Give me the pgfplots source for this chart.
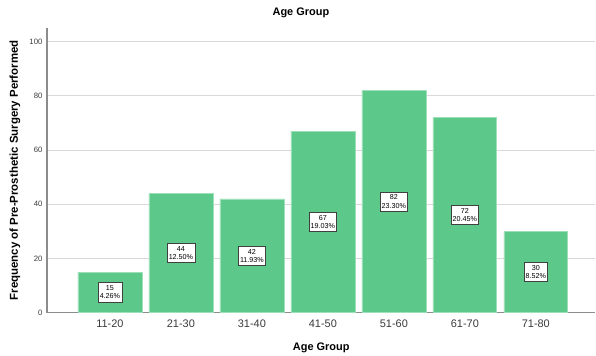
\documentclass[border=0pt]{standalone}
\usepackage{pgfplots}
\pgfplotsset{compat=1.18}
\usepackage{pgfplotstable}
\usepackage{fontspec}
\setmainfont{Liberation Sans}
\definecolor{barg}{HTML}{5CC98A}
\definecolor{gridc}{HTML}{D9D9D9}
\definecolor{axc}{HTML}{8C8C8C}
\definecolor{txt}{HTML}{3A3A3A}
\pgfplotstableread{
x y pct
0 15 4.26
1 44 12.50
2 42 11.93
3 67 19.03
4 82 23.30
5 72 20.45
6 30 8.52
}\data
\begin{document}
\begin{tikzpicture}
\begin{axis}[
  scale only axis,
  width=549bp, height=285bp,
  xmin=-0.887, xmax=6.84,
  ymin=0, ymax=105,
  xtick={0,...,6},
  xticklabels={11-20,21-30,31-40,41-50,51-60,61-70,71-80},
  ytick={0,20,40,60,80,100},
  major tick length=0pt,
  axis x line*=bottom, axis y line*=left,
  axis line style={draw=axc, line width=1.1pt, -},
  ymajorgrids, grid style={draw=gridc, line width=0.9pt},
  /pgf/number format/assume math mode=true,
  xticklabel style={font=\fontsize{11}{12}\selectfont, text=txt, yshift=-4bp},
  yticklabel style={font=\fontsize{7.8}{9}\selectfont, text=txt, xshift=-1bp},
  title={\textbf{Age Group}},
  title style={at={(axis description cs:0.463,1)}, anchor=center, yshift=9bp, font=\fontsize{11}{13}\selectfont},
  xlabel={\textbf{Age Group}},
  xlabel style={at={(axis description cs:0.5,0)}, anchor=base, yshift=-37.5bp, font=\fontsize{11}{13}\selectfont},
  ylabel={\textbf{Frequency of Pre-Prosthetic Surgery Performed}},
  ylabel style={at={(axis description cs:-0.0583,0.5)}, anchor=center, font=\fontsize{11.5}{13}\selectfont},
  clip=false,
]
\addplot[ybar, bar width=0.9, fill=barg, draw=barg!60!white, line width=0.6pt] table[x=x, y=y] {\data};
\addplot[draw=none, mark=none,
  visualization depends on={\thisrow{y} \as \cnt},
  visualization depends on={\thisrow{pct} \as \pct},
  nodes near coords={\pgfmathprintnumber[fixed,precision=0]{\cnt}\\\pgfmathprintnumber[fixed,fixed zerofill,precision=2]{\pct}\%},
  nodes near coords style={anchor=center, draw=black!75, line width=0.7pt, fill=white, align=center, inner xsep=1.8pt, inner ysep=3pt, font=\fontsize{7.2}{8.2}\selectfont, text=black, /pgf/number format/assume math mode=true},
] table[x=x, y expr=\thisrow{y}/2] {\data};
\end{axis}
\path[use as bounding box] (-47bp,-38bp) rectangle (549bp,313bp);
\end{tikzpicture}
\end{document}
